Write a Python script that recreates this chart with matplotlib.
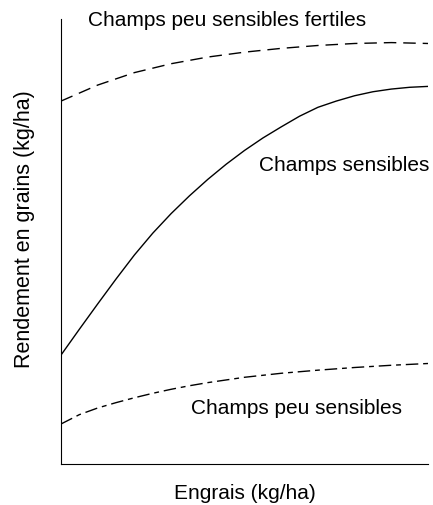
import matplotlib.pyplot as plt

plt.rcParams['font.family'] = ['Liberation Sans', 'DejaVu Sans']

# (x in 0..10, y in 0..100, no units shown)
x_fert = [0, 1, 2, 3, 4, 5, 6, 7, 8, 9, 10]
fertiles = [81.6, 85.2, 88.0, 90.0, 91.5, 92.6, 93.45, 94.1, 94.55, 94.75, 94.55]

x_sens = [0, 0.5, 1, 1.5, 2, 2.5, 3, 3.5, 4, 4.5, 5, 5.5, 6, 6.5, 7, 7.5, 8, 8.5, 9, 9.5, 10]
sensibles = [24.5, 30.3, 36.0, 41.6, 47.0, 51.9, 56.3, 60.3, 64.0, 67.4, 70.5,
             73.3, 75.8, 78.2, 80.2, 81.6, 82.8, 83.7, 84.3, 84.7, 84.9]

x_peu = [0, 0.5, 1, 1.5, 2, 2.5, 3, 3.5, 4, 5, 6, 7, 8, 9, 10]
peu_sensibles = [9.0, 11.1, 12.6, 13.8, 14.9, 15.9, 16.8, 17.6, 18.3, 19.5, 20.4, 21.1, 21.7, 22.2, 22.6]

fig = plt.figure(figsize=(4.33, 5.06), dpi=100)
ax = fig.add_axes([0.1409, 0.081, 0.8476, 0.879])

ax.plot(x_fert, fertiles, color="black", linewidth=1, dashes=(9, 5))
ax.plot(x_sens, sensibles, color="black", linewidth=1)
ax.plot(x_peu, peu_sensibles, color="black", linewidth=1, dashes=(9, 3.5, 3.5, 3.5))

ax.text(0.74, 100, "Champs peu sensibles fertiles", fontsize=15, ha="left", va="center")
ax.text(10.05, 67.3, "Champs sensibles", fontsize=15, ha="right", va="center")
ax.text(9.29, 12.6, "Champs peu sensibles", fontsize=15, ha="right", va="center")

ax.set_xlim(0, 10)
ax.set_ylim(0, 100)
ax.set_xticks([])
ax.set_yticks([])
ax.spines["top"].set_visible(False)
ax.spines["right"].set_visible(False)
ax.set_xlabel("Engrais (kg/ha)", fontsize=15, labelpad=14)
ax.set_ylabel("Rendement en grains (kg/ha)", fontsize=15.5, labelpad=19, y=0.53)

plt.savefig("out.png", dpi=100)
